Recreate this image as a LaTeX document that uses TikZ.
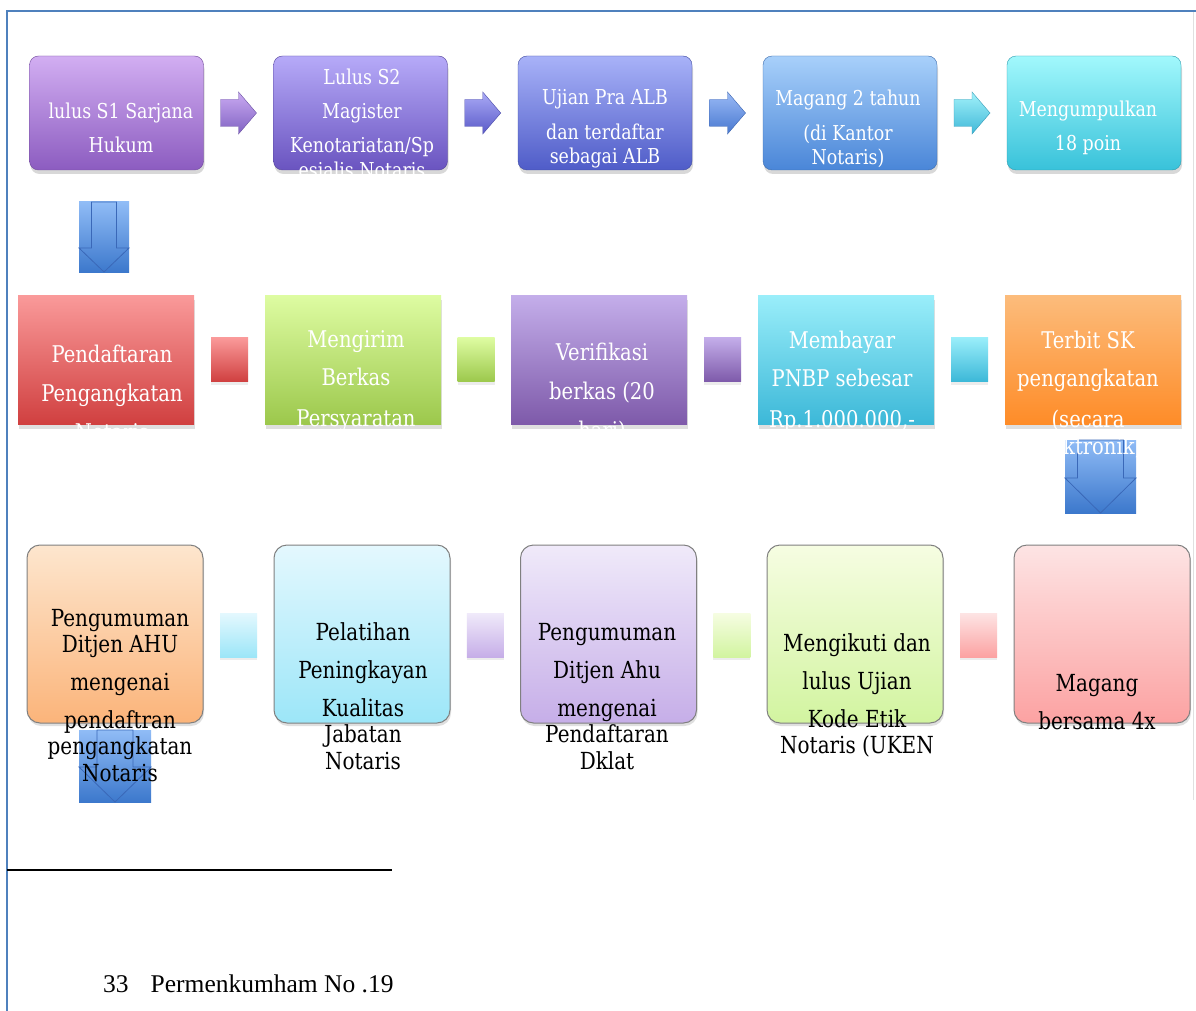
\documentclass[tikz,border=0pt]{standalone}
\usepackage{fontspec}
\setmainfont{DejaVu Serif}[FakeStretch=0.85]
\newfontfamily\footfont{Liberation Serif}
\usetikzlibrary{shadows,calc}
% box colours (top / bottom)
\definecolor{bAt}{HTML}{D2AEF2}\definecolor{bAb}{HTML}{8C5CC0}
\definecolor{bBt}{HTML}{B6AAF8}\definecolor{bBb}{HTML}{6A54C0}
\definecolor{bCt}{HTML}{A8B2F8}\definecolor{bCb}{HTML}{4F5CC8}
\definecolor{bDt}{HTML}{A8D0FA}\definecolor{bDb}{HTML}{4A86D8}
\definecolor{bEt}{HTML}{A2F8FC}\definecolor{bEb}{HTML}{38C2DA}
\definecolor{mAt}{HTML}{FA9A9A}\definecolor{mAb}{HTML}{D04040}
\definecolor{mBt}{HTML}{DEFCA2}\definecolor{mBb}{HTML}{9CC84C}
\definecolor{mCt}{HTML}{C4AEEA}\definecolor{mCb}{HTML}{7E5AAA}
\definecolor{mDt}{HTML}{9AEEFA}\definecolor{mDb}{HTML}{3CB8D8}
\definecolor{mEt}{HTML}{FCBC7C}\definecolor{mEb}{HTML}{FE8C28}
\definecolor{lAt}{HTML}{FDE6CE}\definecolor{lAb}{HTML}{FBB47A}
\definecolor{lBt}{HTML}{E4F8FE}\definecolor{lBb}{HTML}{9CE6F8}
\definecolor{lCt}{HTML}{F0EAFA}\definecolor{lCb}{HTML}{C6AEE8}
\definecolor{lDt}{HTML}{F6FDE2}\definecolor{lDb}{HTML}{D2F4A0}
\definecolor{lEt}{HTML}{FDE4E4}\definecolor{lEb}{HTML}{FCA2A2}
\definecolor{aAt}{HTML}{CAAAF2}\definecolor{aAb}{HTML}{8062C2}
\definecolor{aBt}{HTML}{AAAAF6}\definecolor{aBb}{HTML}{5A5AC8}
\definecolor{aCt}{HTML}{9ABAF6}\definecolor{aCb}{HTML}{4878D0}
\definecolor{aDt}{HTML}{A2F2FA}\definecolor{aDb}{HTML}{40B8D8}
\definecolor{dtop}{HTML}{90BCF6}\definecolor{dbot}{HTML}{3C78CC}
\definecolor{dline}{HTML}{3A68B8}
\definecolor{framec}{HTML}{4F81BD}
\begin{document}
\begin{tikzpicture}[x=1pt,y=1pt,
  topbox/.style 2 args={rounded corners=9pt, minimum width=174pt, minimum height=114pt,
    inner sep=0pt, outer sep=0pt, top color=#1, bottom color=#2, draw=#2!80!black, line width=0.4pt,
    drop shadow={shadow xshift=1pt, shadow yshift=-4pt, opacity=0.3}},
  midbox/.style 2 args={minimum width=176pt, minimum height=129pt,
    inner sep=0pt, outer sep=0pt, top color=#1, bottom color=#2,
    drop shadow={shadow xshift=1pt, shadow yshift=-5pt, opacity=0.25}},
  lowbox/.style 2 args={rounded corners=13pt, minimum width=176pt, minimum height=178pt,
    inner sep=0pt, outer sep=0pt, top color=#1, bottom color=#2, draw=black!50, line width=1pt,
    drop shadow={shadow xshift=1pt, shadow yshift=-3pt, opacity=0.25}},
  conn/.style 2 args={minimum width=37pt, minimum height=44pt, inner sep=0pt, outer sep=0pt,
    top color=#1, bottom color=#2,
    drop shadow={shadow xshift=0pt, shadow yshift=-3pt, opacity=0.15}},
  ttop/.style={text=white, align=center, inner sep=0pt, font=\fontsize{20.5}{24}\selectfont},
  tmid/.style={text=white, align=center, inner sep=0pt, font=\fontsize{23}{27}\selectfont},
  tlow/.style={text=black, align=center, inner sep=0pt, font=\fontsize{23.5}{26}\selectfont},
  pics/rarrow/.style 2 args={code={
    \shade[top color=#1, bottom color=#2, draw=#2!85!black, line width=0.4pt]
      (-18,13.5) -- (0,13.5) -- (0,21) -- (18,0) -- (0,-21) -- (0,-13.5) -- (-18,-13.5) -- cycle;}},
  pics/darrow/.style n args={4}{code={
    \shade[top color=dtop, bottom color=dbot] ({-#1/2},{-#2/2}) rectangle ({#1/2},{#2/2});
    \draw[dline, line width=0.8pt] ({-#3/2},{#2/2}) -- ({-#3/2},{-#2/2+#4}) -- ({-#1/2},{-#2/2+#4})
      -- (0,{-#2/2}) -- ({#1/2},{-#2/2+#4}) -- ({#3/2},{-#2/2+#4}) -- ({#3/2},{#2/2}) -- cycle;}}
]
\useasboundingbox (0,0) rectangle (1196,-1011);
\fill[white] (0,0) rectangle (1196,-1011);

% frame
\draw[framec, line width=1.5pt] (7,-1011) -- (7,-11) -- (1196,-11);
\draw[black!12, line width=1pt] (1193,-12) -- (1193,-800);

% ---------- top row
\node[topbox={bAt}{bAb}] (b1) at (116.5,-113) {};
\node[topbox={bBt}{bBb}] (b2) at (360.5,-113) {};
\node[topbox={bCt}{bCb}] (b3) at (605,-113) {};
\node[topbox={bDt}{bDb}] (b4) at (850,-113) {};
\node[topbox={bEt}{bEb}] (b5) at (1094,-113) {};

\pic at ($(b1.east)!0.5!(b2.west)$) {rarrow={aAt}{aAb}};
\pic at ($(b2.east)!0.5!(b3.west)$) {rarrow={aBt}{aBb}};
\pic at ($(b3.east)!0.5!(b4.west)$) {rarrow={aCt}{aCb}};
\pic at ($(b4.east)!0.5!(b5.west)$) {rarrow={aDt}{aDb}};

\node[ttop] (t1) at (121,-128) {lulus S1 Sarjana\\[10pt]Hukum};
\node[ttop] (t2) at (362,-123.5) {Lulus S2\\[10pt]Magister\\[10pt]Kenotariatan/Sp\\[1pt]esialis Notaris};
\node[ttop] (t3) at (605,-128.5) {Ujian Pra ALB\\[11pt]dan terdaftar\\sebagai ALB};
\node[ttop] (t4) at (848,-128.5) {Magang 2 tahun\\[11pt](di Kantor\\Notaris)};
\node[ttop] (t5) at (1088,-128) {Mengumpulkan\\[10pt]18 poin};

% down arrow 1
\pic at (104,-237) {darrow={50}{70}{25}{24}};

% ---------- middle row
\node[midbox={mAt}{mAb}] (b6) at (106,-359.5) {};
\node[midbox={mBt}{mBb}] (b7) at (353,-359.5) {};
\node[midbox={mCt}{mCb}] (b8) at (599,-359.5) {};
\node[midbox={mDt}{mDb}] (b9) at (846,-359.5) {};
\node[midbox={mEt}{mEb}] (b10) at (1093,-359.5) {};

\node[conn={mAt}{mAb}] (c1) at ($(b6.east)!0.5!(b7.west)$) {};
\node[conn={mBt}{mBb}] (c2) at ($(b7.east)!0.5!(b8.west)$) {};
\node[conn={mCt}{mCb}] (c3) at ($(b8.east)!0.5!(b9.west)$) {};
\node[conn={mDt}{mDb}] (c4) at ($(b9.east)!0.5!(b10.west)$) {};

% down arrow 2
\pic at (1100.5,-476.5) {darrow={71}{73}{46}{35}};

\node[tmid] (t6) at (112,-393) {Pendaftaran\\[12pt]Pengangkatan\\[12pt]Notaris};
\node[tmid] (t7) at (356,-381.5) {Mengirim\\[11pt]Berkas\\[14pt]Persyaratan};
\node[tmid] (t8) at (602,-393) {Verifikasi\\[12pt]berkas (20\\[12pt]hari)};
\node[tmid] (t9) at (842,-381.5) {Membayar\\[11pt]PNBP sebesar\\[14pt]Rp.1.000.000,-};
\node[tmid] (t10) at (1088,-395) {Terbit SK\\[11pt]pengangkatan\\[14pt](secara\\elektronik)};

% ---------- bottom row
\node[lowbox={lAt}{lAb}] (b11) at (115,-634) {};
\node[lowbox={lBt}{lBb}] (b12) at (362,-634) {};
\node[lowbox={lCt}{lCb}] (b13) at (608.5,-634) {};
\node[lowbox={lDt}{lDb}] (b14) at (855,-634) {};
\node[lowbox={lEt}{lEb}] (b15) at (1102,-634) {};

\node[conn={lBt}{lBb}] (c5) at ($(b11.east)!0.5!(b12.west)+(0,-1)$) {};
\node[conn={lCt}{lCb}] (c6) at ($(b12.east)!0.5!(b13.west)+(0,-1)$) {};
\node[conn={lDt}{lDb}] (c7) at ($(b13.east)!0.5!(b14.west)+(0,-1)$) {};
\node[conn={lEt}{lEb}] (c8) at ($(b14.east)!0.5!(b15.west)+(0,-1)$) {};

% down arrow 3
\pic at (115,-766) {darrow={72}{72}{36}{35}};

\node[tlow] (t11) at (120,-696) {Pengumuman\\Ditjen AHU\\[12pt]mengenai\\[12pt]pendaftran\\pengangkatan\\[1pt]Notaris};
\node[tlow] (t12) at (363,-696.5) {Pelatihan\\[12pt]Peningkayan\\[12pt]Kualitas\\Jabatan\\[1pt]Notaris};
\node[tlow] (t13) at (607,-696.5) {Pengumuman\\[12pt]Ditjen Ahu\\[12pt]mengenai\\Pendaftaran\\[1pt]Dklat};
\node[tlow] (t14) at (857,-695.5) {Mengikuti dan\\[12pt]lulus Ujian\\[12pt]Kode Etik\\Notaris (UKEN};
\node[tlow] (t15) at (1097,-702) {Magang\\[12pt]bersama 4x};

% ---------- footnote
\draw[line width=1.3pt] (7,-870) -- (392,-870);
\node[anchor=base west, inner sep=0pt, font=\footfont\fontsize{25.5}{30}\selectfont] (foot) at (103,-992)
  {33\hspace{22pt}Permenkumham No .19};
\end{tikzpicture}
\end{document}
